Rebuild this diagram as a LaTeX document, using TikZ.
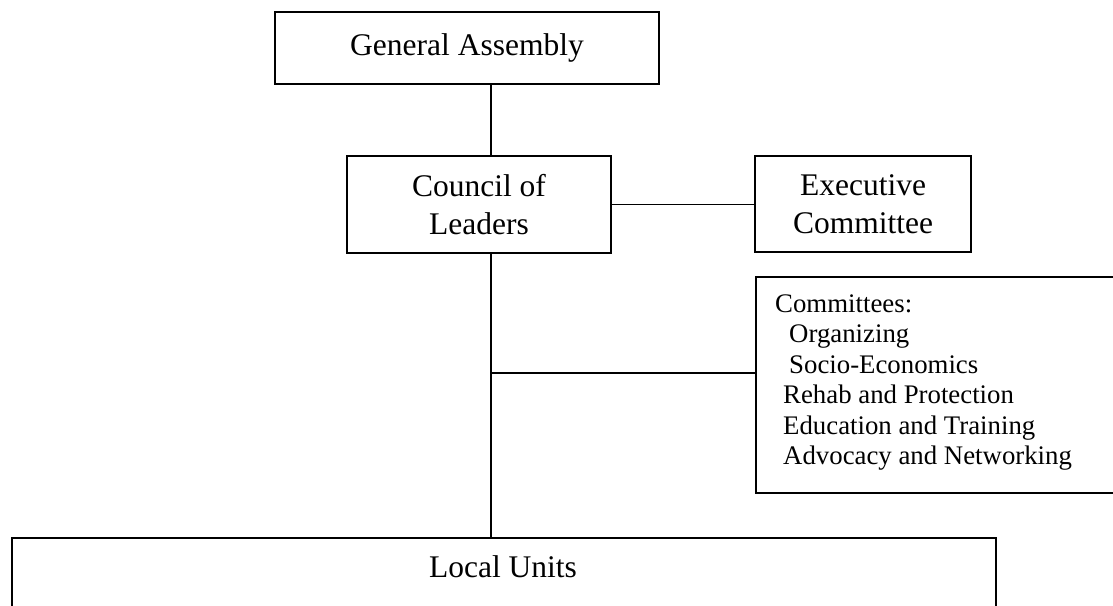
\documentclass[tikz,border=0pt]{standalone}
\usepackage{fontspec}
\setmainfont{Liberation Serif}
\begin{document}
\begin{tikzpicture}[x=1pt,y=-1pt,
  box/.style={draw, line width=1.9pt, inner sep=0pt, align=center,
    font=\fontsize{31.5}{38}\selectfont},
  item/.style={inner sep=0pt, anchor=base west, font=\fontsize{26.8}{30.5}\selectfont},
  link/.style={line width=1.9pt}]
\useasboundingbox (0,0) rectangle (1113,605);
\clip (0,0) rectangle (1113,605);
\node[box, minimum width=384pt, minimum height=72pt] (ga) at (467,48) {General Assembly};
\node[box, minimum width=264pt, minimum height=97pt] (cl) at (479,204.5) {Council of\\Leaders};
\node[box, minimum width=216pt, minimum height=96pt] (ex) at (863,204) {Executive\\Committee};
\node[box, anchor=north west, minimum width=380pt, minimum height=216pt] (comm) at (755,276) {};
\node[item] (c0) at (775,312) {Committees:};
\node[item] (c1) at (789,342.5) {Organizing};
\node[item] (c2) at (789,373) {Socio-Economics};
\node[item] (c3) at (783,403.5) {Rehab and Protection};
\node[item] (c4) at (783,434) {Education and Training};
\node[item] (c5) at (783,464.5) {Advocacy and Networking};
\node[draw, line width=1.9pt, anchor=north west, minimum width=984pt, minimum height=90pt, inner sep=0pt] (lu) at (11,537) {};
\node[inner sep=0pt, anchor=base, font=\fontsize{31.5}{38}\selectfont] (lut) at (503,577) {Local Units};
\coordinate (stem) at (491,373);
\draw[link] (ga.south -| stem) -- (cl.north -| stem);
\draw[link] (cl.east) -- (cl.east -| ex.west);
\draw[link] (cl.south -| stem) -- (lu.north -| stem);
\draw[link] (stem) -- (comm.west |- stem);
\end{tikzpicture}
\end{document}
